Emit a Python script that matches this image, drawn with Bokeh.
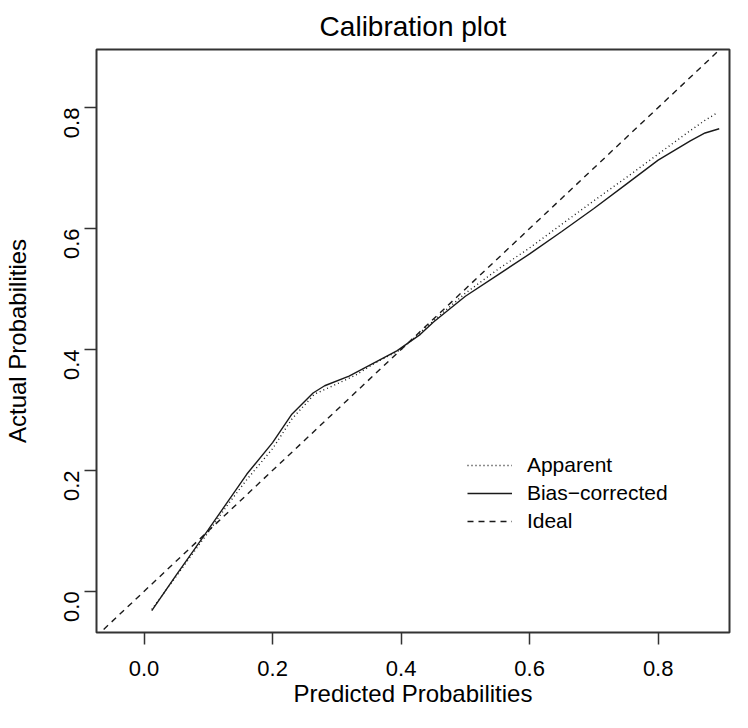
import math
from bokeh.plotting import figure
from bokeh.models import Range1d, FixedTicker, Legend, LegendItem
from bokeh.embed import file_html
from bokeh.resources import INLINE

# ---- data ----
apparent_x = [0.012, 0.05, 0.10, 0.13, 0.16, 0.20, 0.23, 0.265, 0.30, 0.33, 0.36, 0.40, 0.45, 0.50,
              0.55, 0.60, 0.65, 0.70, 0.75, 0.80, 0.85, 0.873, 0.893]
apparent_y = [-0.030, 0.025, 0.098, 0.143, 0.185, 0.236, 0.285, 0.326, 0.343, 0.358, 0.378, 0.400, 0.447, 0.493,
              0.532, 0.568, 0.607, 0.646, 0.684, 0.723, 0.762, 0.779, 0.792]

bias_x = [0.012, 0.05, 0.10, 0.13, 0.16, 0.20, 0.23, 0.263, 0.281, 0.319, 0.358, 0.394, 0.43, 0.45, 0.50,
          0.55, 0.60, 0.65, 0.70, 0.75, 0.80, 0.85, 0.873, 0.895]
bias_y = [-0.032, 0.027, 0.102, 0.148, 0.194, 0.246, 0.293, 0.328, 0.340, 0.356, 0.378, 0.398, 0.425, 0.445, 0.488,
          0.523, 0.558, 0.595, 0.633, 0.673, 0.713, 0.745, 0.758, 0.765]

ideal_x = [-0.2, 1.2]
ideal_y = [-0.2, 1.2]

x_lo, x_hi = -0.074, 0.911
y_lo, y_hi = -0.068, 0.896
tick_values = [0.0, 0.2, 0.4, 0.6, 0.8]
tick_labels = ["0.0", "0.2", "0.4", "0.6", "0.8"]
legend_names = ["Apparent", "Bias\u2212corrected", "Ideal"]
legend_anchor = (0.496, 0.234)   # data position of legend's top-left corner

FONT = "Liberation Sans"
INK = "#1a1a1a"

W, H = 732, 712
ML, MR, MT, MB = 88, 3, 49, 80
ROW = 28.5

p = figure(width=W, height=H, output_backend="svg", toolbar_location=None,
           x_range=Range1d(x_lo, x_hi), y_range=Range1d(y_lo, y_hi),
           min_border_left=ML, min_border_right=MR, min_border_top=MT, min_border_bottom=MB,
           title="Calibration plot")
p.background_fill_color = "white"
p.border_fill_color = "white"
p.grid.visible = False
p.outline_line_color = "#333333"
p.outline_line_width = 2

p.title.text_font = FONT
p.title.text_font_size = "28px"
p.title.text_font_style = "normal"
p.title.align = "center"
p.title.vertical_align = "middle"
p.title.text_color = "black"
p.title.standoff = 13

for ax in (p.xaxis[0], p.yaxis[0]):
    ax.ticker = FixedTicker(ticks=tick_values)
    ax.major_label_overrides = {v: s for v, s in zip(tick_values, tick_labels)}
    ax.axis_line_color = None
    ax.major_tick_in = 0
    ax.major_tick_out = 12
    ax.major_tick_line_color = "#333333"
    ax.major_tick_line_width = 1.5
    ax.minor_tick_line_color = None
    ax.major_label_text_font = FONT
    ax.major_label_text_font_size = "22px"
    ax.major_label_text_color = "black"
    ax.axis_label_text_font = FONT
    ax.axis_label_text_font_size = "24px"
    ax.axis_label_text_font_style = "normal"
    ax.axis_label_text_color = "black"

p.xaxis.axis_label = "Predicted Probabilities"
p.yaxis.axis_label = "Actual Probabilities"
p.xaxis.major_label_standoff = 16
p.xaxis.axis_label_standoff = 1
p.yaxis.major_label_standoff = 13
p.yaxis.major_label_orientation = math.pi / 2
p.yaxis.axis_label_standoff = 23

r_app = p.line(apparent_x, apparent_y, line_color=INK, line_width=1.4, line_dash="1 3")
r_bias = p.line(bias_x, bias_y, line_color=INK, line_width=1.4)
r_ideal = p.line(ideal_x, ideal_y, line_color=INK, line_width=1.4, line_dash="6 5")

frame_w = W - ML - MR
frame_h = H - MT - MB
lx = (legend_anchor[0] - x_lo) / (x_hi - x_lo) * frame_w
ly = (legend_anchor[1] - y_lo) / (y_hi - y_lo) * frame_h

legend = Legend(items=[LegendItem(label=legend_names[0], renderers=[r_app]),
                       LegendItem(label=legend_names[1], renderers=[r_bias]),
                       LegendItem(label=legend_names[2], renderers=[r_ideal])],
                location=(lx, ly - 3 * ROW))
legend.background_fill_alpha = 0
legend.border_line_color = None
legend.padding = 0
legend.margin = 0
legend.spacing = 0
legend.glyph_width = 45
legend.glyph_height = int(ROW)
legend.label_height = int(ROW)
legend.label_standoff = 15
legend.label_text_font = FONT
legend.label_text_font_size = "21px"
legend.label_text_color = "black"
p.add_layout(legend)

open("out.html", "w").write(file_html(p, INLINE))
